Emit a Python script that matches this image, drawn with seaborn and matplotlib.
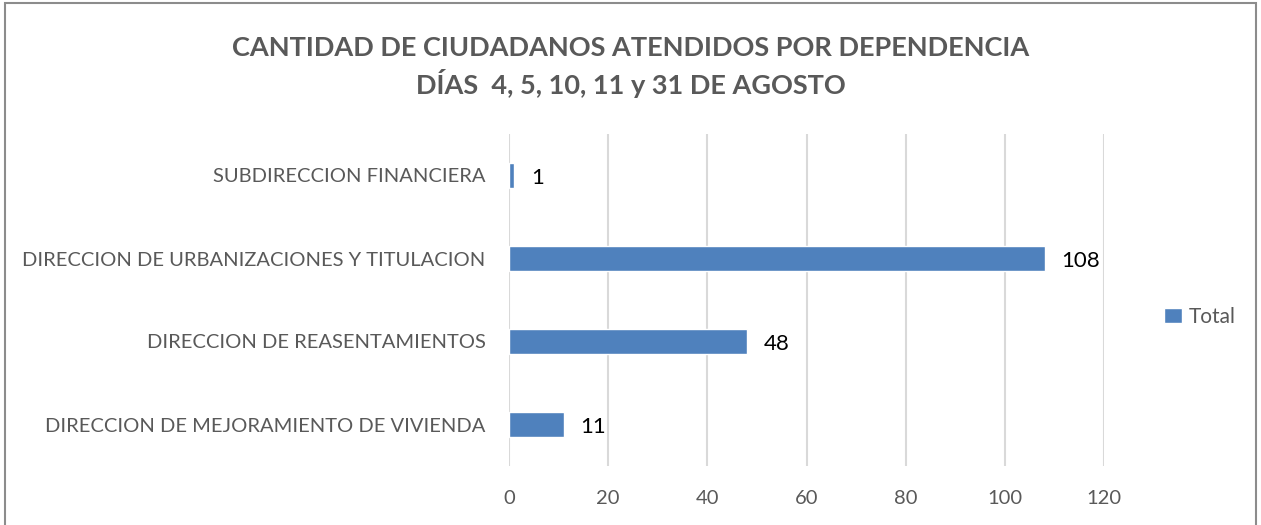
import pandas as pd
import seaborn as sns
import matplotlib.pyplot as plt
from matplotlib.patches import Rectangle

# datos del grafico
dependencias = [
    'SUBDIRECCION FINANCIERA',
    'DIRECCION DE URBANIZACIONES Y TITULACION',
    'DIRECCION DE REASENTAMIENTOS',
    'DIRECCION DE MEJORAMIENTO DE VIVIENDA',
]
total = [1, 108, 48, 11]
xticks = [0, 20, 40, 60, 80, 100, 120]

df = pd.DataFrame({'dependencia': dependencias, 'Total': total})

sns.set_style('white')
plt.rcParams['font.family'] = ['Lato', 'DejaVu Sans']

fig = plt.figure(figsize=(12.61, 5.25), dpi=100)
ax = fig.add_axes([509 / 1261, 1 - 466 / 525, 595 / 1261, 332 / 525])

sns.barplot(data=df, y='dependencia', x='Total', color='#4f81bd',
            width=0.31, saturation=1, ax=ax, label='Total', zorder=3)

ax.set_xlim(0, 120)
ax.set_xticks(xticks)
ax.set_xlabel('')
ax.set_ylabel('')
ax.tick_params(axis='x', labelsize=14.5, colors='#595959', length=0, pad=17)
ax.tick_params(axis='y', labelsize=14.5, colors='#595959', length=0, pad=17)
ax.grid(axis='x', color='#d9d9d9', linewidth=1.5, zorder=0)
for s in ax.spines.values():
    s.set_visible(False)
ax.set_ylim(3.5, -0.5)

for i, v in enumerate(total):
    ax.text(v + 3.4, i + 0.03, f'{v}', va='center', ha='left', fontsize=16, color='black')

leg = ax.legend(loc='center left', bbox_to_anchor=(1.07, 0.45), frameon=False,
                fontsize=15, handlelength=0.85, handleheight=0.7, handletextpad=0.3)
for t in leg.get_texts():
    t.set_color('#595959')

fig.text(0.5, 1 - 48 / 525, 'CANTIDAD DE CIUDADANOS ATENDIDOS POR DEPENDENCIA',
         ha='center', va='center', fontsize=19.5, fontweight='bold', color='#595959')
fig.text(0.5, 1 - 83 / 525, 'DÍAS  4, 5, 10, 11 y 31 DE AGOSTO',
         ha='center', va='center', fontsize=19.5, fontweight='bold', color='#595959')

fig.patches.append(Rectangle((5 / 1261, -0.02), 1251 / 1261, 1.02 - 3 / 525,
                             transform=fig.transFigure, fill=False,
                             edgecolor='#8c8c8c', linewidth=1.5))

fig.savefig('out.png', dpi=100)
